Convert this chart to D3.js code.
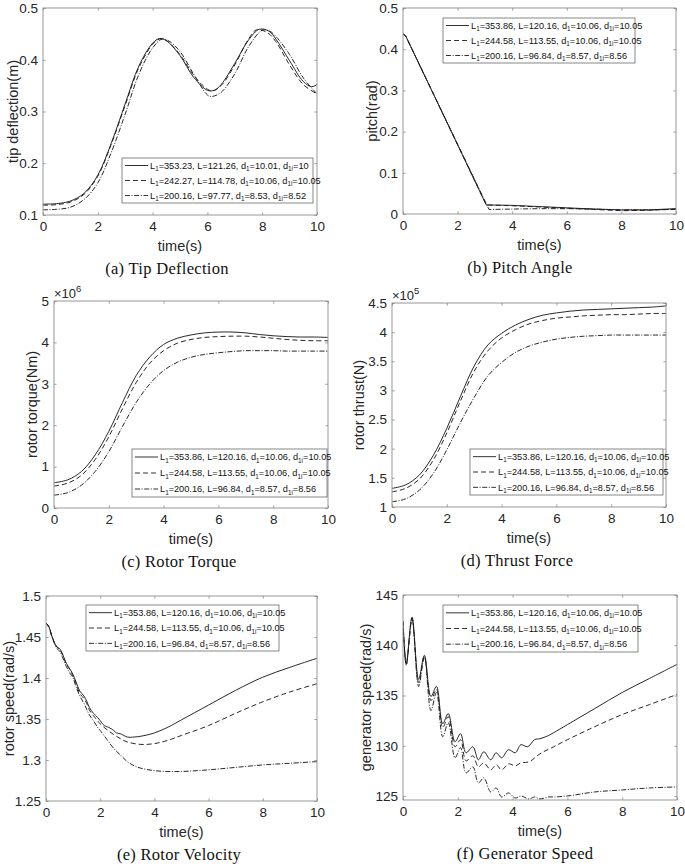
<!DOCTYPE html>
<html>
<head>
<meta charset="utf-8">
<script src="https://cdn.jsdelivr.net/npm/d3@7/dist/d3.min.js"></script>
<style>
  html, body { margin: 0; padding: 0; background: #fff; }
  svg { display: block; }
</style>
</head>
<body>
<svg id="chart" width="685" height="866"></svg>
<script>
// ---------------- DATA ----------------
const xTicks = [0, 2, 4, 6, 8, 10];

// (a) tip deflection (m)  [t, value]
const tipSolid   = [[0,0.121],[0.5,0.122],[1,0.127],[1.5,0.142],[2,0.177],[2.5,0.24],[3,0.315],[3.5,0.388],[4,0.432],[4.25,0.441],[4.5,0.437],[5,0.408],[5.5,0.366],[6,0.341],[6.25,0.341],[6.5,0.352],[7,0.393],[7.5,0.438],[7.9,0.459],[8.25,0.455],[8.5,0.44],[9,0.398],[9.5,0.358],[9.8,0.348],[10,0.352]];
const tipDashed  = [[0,0.119],[0.5,0.12],[1,0.125],[1.5,0.14],[2,0.175],[2.5,0.238],[3,0.312],[3.5,0.385],[4,0.43],[4.25,0.44],[4.5,0.437],[5,0.41],[5.5,0.37],[6,0.343],[6.2,0.34],[6.5,0.35],[7,0.39],[7.5,0.44],[7.8,0.458],[8.2,0.452],[8.5,0.435],[9,0.39],[9.5,0.352],[10,0.334]];
const tipDashDot = [[0,0.11],[0.5,0.111],[1,0.115],[1.5,0.13],[2,0.162],[2.5,0.222],[3,0.295],[3.5,0.372],[4,0.423],[4.35,0.44],[4.6,0.436],[5,0.416],[5.5,0.372],[6,0.332],[6.15,0.329],[6.5,0.337],[7,0.373],[7.5,0.425],[8,0.457],[8.25,0.456],[8.5,0.445],[9,0.41],[9.5,0.365],[10,0.334]];
const tipTicks = [0.1, 0.2, 0.3, 0.4, 0.5];

// (b) pitch (rad)
const pitchSolid   = [[0,0.437],[0.1,0.432],[3.05,0.022],[4,0.021],[5,0.018],[6,0.015],[7,0.012],[8,0.01],[9,0.01],[10,0.013]];
const pitchDashed  = [[0,0.437],[0.1,0.432],[3.05,0.022],[4,0.02],[5,0.017],[6,0.014],[7,0.011],[8,0.008],[9,0.009],[10,0.012]];
const pitchDashDot = [[0,0.437],[0.1,0.432],[3.15,0.011],[4,0.012],[5,0.013],[6,0.013],[7,0.012],[8,0.01],[9,0.01],[10,0.011]];
const pitchTicks = [0, 0.1, 0.2, 0.3, 0.4, 0.5];

// (c) rotor torque (x10^6 Nm)
const torqueSolid   = [[0,0.61],[0.5,0.68],[1,0.88],[1.5,1.28],[2,1.85],[2.5,2.55],[3,3.2],[3.5,3.65],[4,3.95],[4.5,4.1],[5,4.18],[5.5,4.23],[6,4.25],[6.5,4.25],[7,4.23],[7.5,4.19],[8,4.16],[8.5,4.14],[9,4.13],[9.5,4.13],[10,4.12]];
const torqueDashed  = [[0,0.53],[0.5,0.6],[1,0.79],[1.5,1.17],[2,1.72],[2.5,2.4],[3,3.03],[3.5,3.5],[4,3.8],[4.5,3.98],[5,4.07],[5.5,4.12],[6,4.14],[6.5,4.15],[7,4.15],[7.5,4.13],[8,4.1],[8.5,4.07],[9,4.05],[9.5,4.04],[10,4.04]];
const torqueDashDot = [[0,0.31],[0.5,0.37],[1,0.55],[1.5,0.88],[2,1.36],[2.5,1.97],[3,2.55],[3.5,3.0],[4,3.32],[4.5,3.52],[5,3.64],[5.5,3.71],[6,3.75],[6.5,3.78],[7,3.8],[7.5,3.8],[8,3.8],[8.5,3.79],[9,3.79],[9.5,3.79],[10,3.79]];
const torqueTicks = [0, 1, 2, 3, 4, 5];

// (d) rotor thrust (x10^5 N)
const thrustSolid   = [[0,1.32],[0.5,1.38],[1,1.55],[1.5,1.88],[2,2.35],[2.5,2.9],[3,3.42],[3.5,3.78],[4,3.98],[4.5,4.12],[5,4.22],[5.5,4.29],[6,4.33],[6.5,4.36],[7,4.38],[7.5,4.39],[8,4.4],[8.5,4.41],[9,4.42],[9.5,4.43],[10,4.45]];
const thrustDashed  = [[0,1.26],[0.5,1.32],[1,1.48],[1.5,1.8],[2,2.27],[2.5,2.82],[3,3.33],[3.5,3.68],[4,3.9],[4.5,4.04],[5,4.14],[5.5,4.2],[6,4.24],[6.5,4.26],[7,4.28],[7.5,4.29],[8,4.3],[8.5,4.3],[9,4.31],[9.5,4.32],[10,4.32]];
const thrustDashDot = [[0,1.09],[0.5,1.14],[1,1.29],[1.5,1.57],[2,1.98],[2.5,2.45],[3,2.88],[3.5,3.25],[4,3.48],[4.5,3.65],[5,3.76],[5.5,3.83],[6,3.88],[6.5,3.91],[7,3.93],[7.5,3.94],[8,3.95],[8.5,3.95],[9,3.95],[9.5,3.95],[10,3.95]];
const thrustTicks = [1, 1.5, 2, 2.5, 3, 3.5, 4, 4.5];

// (e) rotor speed (rad/s)
const rotorSolid   = [[0,1.467],[0.1,1.463],[0.25,1.448],[0.4,1.438],[0.5,1.436],[0.6,1.43],[0.75,1.418],[0.9,1.41],[1,1.404],[1.1,1.396],[1.25,1.384],[1.4,1.378],[1.5,1.372],[1.6,1.364],[1.75,1.357],[1.9,1.352],[2,1.348],[2.15,1.342],[2.3,1.34],[2.5,1.336],[2.6,1.333],[2.75,1.332],[3,1.328],[3.25,1.328],[3.5,1.329],[4,1.333],[4.5,1.34],[5,1.349],[6,1.367],[7,1.385],[8,1.401],[9,1.413],[10,1.424]];
const rotorDashed  = [[0,1.467],[0.1,1.463],[0.25,1.448],[0.4,1.438],[0.5,1.435],[0.6,1.429],[0.75,1.417],[0.9,1.409],[1,1.402],[1.1,1.394],[1.25,1.381],[1.4,1.375],[1.5,1.369],[1.6,1.361],[1.75,1.354],[1.9,1.348],[2,1.344],[2.25,1.337],[2.5,1.331],[2.75,1.326],[3,1.322],[3.5,1.319],[4,1.32],[4.5,1.324],[5,1.33],[6,1.342],[7,1.357],[8,1.371],[9,1.383],[10,1.393]];
const rotorDashDot = [[0,1.467],[0.1,1.462],[0.25,1.447],[0.4,1.436],[0.5,1.433],[0.6,1.426],[0.75,1.414],[0.9,1.405],[1,1.4],[1.1,1.39],[1.25,1.378],[1.4,1.369],[1.5,1.362],[1.6,1.355],[1.75,1.348],[1.9,1.34],[2,1.336],[2.25,1.325],[2.5,1.314],[2.75,1.306],[3,1.298],[3.25,1.293],[3.5,1.29],[4,1.287],[4.5,1.286],[5,1.286],[6,1.288],[7,1.291],[8,1.294],[9,1.296],[10,1.298]];
const rotorTicks = [1.25, 1.3, 1.35, 1.4, 1.45, 1.5];

// (f) generator speed (rad/s)
const genSolid   = [[0,142.4],[0.12,138.2],[0.33,142.8],[0.57,136.6],[0.78,139.0],[1.02,134.9],[1.22,135.9],[1.45,132.2],[1.65,133.2],[1.9,130.4],[2.1,131.2],[2.3,129.3],[2.55,129.9],[2.75,128.6],[2.95,129.4],[3.2,128.6],[3.4,129.3],[3.6,128.8],[3.85,129.6],[4.1,129.3],[4.3,130.1],[4.55,129.9],[4.8,130.6],[5,130.7],[5.3,131.0],[5.5,131.3],[6,132.1],[7,133.7],[8,135.3],[9,136.7],[10,138.1]];
const genDashed  = [[0,142.4],[0.12,138.1],[0.33,142.7],[0.57,136.3],[0.78,138.9],[1.02,134.5],[1.22,135.6],[1.45,131.8],[1.65,132.9],[1.9,129.9],[2.1,130.6],[2.3,128.5],[2.55,129.0],[2.75,127.9],[2.95,128.3],[3.2,127.6],[3.4,128.1],[3.6,127.6],[3.85,128.2],[4.1,128.0],[4.3,128.3],[4.6,128.4],[5,129.2],[5.5,129.9],[6,130.6],[7,131.9],[8,133.1],[9,134.1],[10,135.1]];
const genDashDot = [[0,142.4],[0.12,138.0],[0.33,142.6],[0.57,135.9],[0.78,138.8],[1.02,133.5],[1.22,135.3],[1.45,130.9],[1.65,132.3],[1.9,128.8],[2.1,129.8],[2.3,127.3],[2.55,127.9],[2.75,126.3],[2.95,126.8],[3.2,125.4],[3.4,125.8],[3.6,124.9],[3.85,125.3],[4.1,124.8],[4.3,125.0],[4.6,124.7],[4.8,124.9],[5,124.7],[5.3,124.9],[5.5,124.9],[6,125.0],[7,125.4],[8,125.6],[9,125.8],[10,125.9]];
const genTicks = [125, 130, 135, 140, 145];

// legend entries [L1, L, d1, d1i]
const legendTip  = [["353.23","121.26","10.01","10"],["242.27","114.78","10.06","10.05"],["200.16","97.77","8.53","8.52"]];
const legendMain = [["353.86","120.16","10.06","10.05"],["244.58","113.55","10.06","10.05"],["200.16","96.84","8.57","8.56"]];

// ---------------- STYLE / LAYOUT ----------------
const styles = [
  { dash: null },
  { dash: "5,3" },
  { dash: "5,1.6,1,1.6" }
];
const LINE = "#1c1c1c";
const AXIS = "#8c8c8c";
const TXT = "#262626";
const SANS = "'Liberation Sans', Arial, Helvetica, sans-serif";
const SERIF = "'Liberation Serif', 'Times New Roman', serif";

const panels = [
  { box:[43,8,317,215], ydom:[0.1,0.5], yticks:tipTicks, fmt:d=>String(d), ylabel:"tip deflection(m)", ylabX:13,
    series:[tipSolid,tipDashed,tipDashDot], curve:"smooth", legend:legendTip, leg:[122,158,313,203], caption:"(a) Tip Deflection", capX:167 },
  { box:[403,8,676,214], ydom:[0,0.5], yticks:pitchTicks, fmt:d=>String(d), ylabel:"pitch(rad)", ylabX:372,
    series:[pitchSolid,pitchDashed,pitchDashDot], curve:"linear", legend:legendMain, leg:[443,18,635,63], caption:"(b) Pitch Angle", capX:520 },
  { box:[54,301,328,508], ydom:[0,5], yticks:torqueTicks, fmt:d=>String(d), ylabel:"rotor torque(Nm)", ylabX:32, exp:"6",
    series:[torqueSolid,torqueDashed,torqueDashDot], curve:"smooth", legend:legendMain, leg:[132,449,327,497], caption:"(c) Rotor Torque", capX:179 },
  { box:[392,303,666,507], ydom:[1,4.5], yticks:thrustTicks, fmt:d=>String(d), ylabel:"rotor thrust(N)", ylabX:359, exp:"5",
    series:[thrustSolid,thrustDashed,thrustDashDot], curve:"smooth", legend:legendMain, leg:[470,449,663,495], caption:"(d) Thrust Force", capX:517 },
  { box:[46,596,317,801], ydom:[1.25,1.5], yticks:rotorTicks, fmt:d=>String(d), ylabel:"rotor speed(rad/s)", ylabX:9,
    series:[rotorSolid,rotorDashed,rotorDashDot], curve:"smooth", legend:legendMain, leg:[86,605,279,651], caption:"(e) Rotor Velocity", capX:179 },
  { box:[403,595,677,800], ydom:[124.6,145], yticks:genTicks, fmt:d=>String(d), ylabel:"generator speed(rad/s)", ylabX:366,
    series:[genSolid,genDashed,genDashDot], curve:"smooth", legend:legendMain, leg:[443,605,638,652], caption:"(f) Generator Speed", capX:525 }
];

const svg = d3.select("#chart");

panels.forEach((p, pi) => {
  const [x0, y0, x1, y1] = p.box;
  const x = d3.scaleLinear().domain([0, 10]).range([x0, x1]);
  const y = d3.scaleLinear().domain(p.ydom).range([y1, y0]);
  const g = svg.append("g");

  const clipId = "clip" + pi;
  g.append("clipPath").attr("id", clipId).append("rect")
    .attr("x", x0).attr("y", y0).attr("width", x1 - x0).attr("height", y1 - y0);

  // series
  const line = d3.line().x(d => x(d[0])).y(d => y(d[1]))
    .curve(p.curve === "linear" ? d3.curveLinear : d3.curveCatmullRom.alpha(0.5));
  p.series.forEach((s, i) => {
    g.append("path").datum(s)
      .attr("d", line)
      .attr("fill", "none")
      .attr("stroke", LINE)
      .attr("stroke-width", 0.95)
      .attr("stroke-dasharray", styles[i].dash)
      .attr("clip-path", `url(#${clipId})`);
  });

  // axes (ticks inward, on all four sides)
  const tl = 2.7;
  const axB = d3.axisBottom(x).tickValues(xTicks).tickSizeInner(-tl).tickSizeOuter(0).tickPadding(6).tickFormat(d3.format("d"));
  const axT = d3.axisTop(x).tickValues(xTicks).tickSizeInner(-tl).tickSizeOuter(0).tickFormat("");
  const axL = d3.axisLeft(y).tickValues(p.yticks).tickSizeInner(-tl).tickSizeOuter(0).tickPadding(5).tickFormat(p.fmt);
  const axR = d3.axisRight(y).tickValues(p.yticks).tickSizeInner(-tl).tickSizeOuter(0).tickFormat("");

  const gB = g.append("g").attr("transform", `translate(0,${y1})`).call(axB);
  const gT = g.append("g").attr("transform", `translate(0,${y0})`).call(axT);
  const gL = g.append("g").attr("transform", `translate(${x0},0)`).call(axL);
  const gR = g.append("g").attr("transform", `translate(${x1},0)`).call(axR);
  [gB, gT, gL, gR].forEach(a => {
    a.select(".domain").remove();
    a.selectAll(".tick line").attr("stroke", AXIS).attr("stroke-width", 0.8);
    a.selectAll(".tick text").attr("fill", TXT).style("font-family", SANS).style("font-size", "13.5px");
  });
  gB.selectAll(".tick text").attr("dy", "0.75em");

  // box
  g.append("rect").attr("x", x0).attr("y", y0).attr("width", x1 - x0).attr("height", y1 - y0)
    .attr("fill", "none").attr("stroke", AXIS).attr("stroke-width", 0.9);

  // exponent label
  if (p.exp) {
    const t = g.append("text").attr("x", x0).attr("y", y0 - 3)
      .attr("fill", TXT).style("font-family", SANS).style("font-size", "13px");
    t.append("tspan").text("×10");
    t.append("tspan").attr("dy", -6).style("font-size", "9.5px").text(p.exp);
  }

  // axis labels
  g.append("text").attr("x", (x0 + x1) / 2).attr("y", y1 + 36)
    .attr("text-anchor", "middle").attr("fill", TXT)
    .style("font-family", SANS).style("font-size", "14.5px").text("time(s)");
  g.append("text")
    .attr("transform", `translate(${p.ylabX + 5},${(y0 + y1) / 2}) rotate(-90)`)
    .attr("text-anchor", "middle").attr("fill", TXT)
    .style("font-family", SANS).style("font-size", "14.5px").text(p.ylabel);

  // caption
  g.append("text").attr("x", p.capX).attr("y", y1 + 59)
    .attr("text-anchor", "middle").attr("fill", "#111")
    .style("font-family", SERIF).style("font-size", "16.5px").style("letter-spacing", "0.3px").text(p.caption);

  // legend
  const [lx0, ly0, lx1, ly1] = p.leg;
  const lg = g.append("g");
  lg.append("rect").attr("x", lx0).attr("y", ly0).attr("width", lx1 - lx0).attr("height", ly1 - ly0)
    .attr("fill", "#fff").attr("stroke", "#555").attr("stroke-width", 0.7);
  const rowH = (ly1 - ly0) / 3;
  p.legend.forEach((e, i) => {
    const cy = ly0 + rowH * (i + 0.5);
    lg.append("line").attr("x1", lx0 + 3).attr("x2", lx0 + 26).attr("y1", cy).attr("y2", cy)
      .attr("stroke", LINE).attr("stroke-width", 0.9).attr("stroke-dasharray", styles[i].dash);
    const t = lg.append("text").attr("x", lx0 + 28).attr("y", cy + 3.2)
      .attr("fill", "#111").style("font-family", SANS).style("font-size", "9.2px");
    const sub = (s) => t.append("tspan").attr("dy", 2.4).style("font-size", "6.3px").text(s);
    const up = (s) => t.append("tspan").attr("dy", -2.4).text(s);
    t.append("tspan").text("L");
    sub("1");
    up(`=${e[0]}, L=${e[1]}, d`);
    sub("1");
    up(`=${e[2]}, d`);
    sub("1i");
    up(`=${e[3]}`);
  });
});
</script>
</body>
</html>
